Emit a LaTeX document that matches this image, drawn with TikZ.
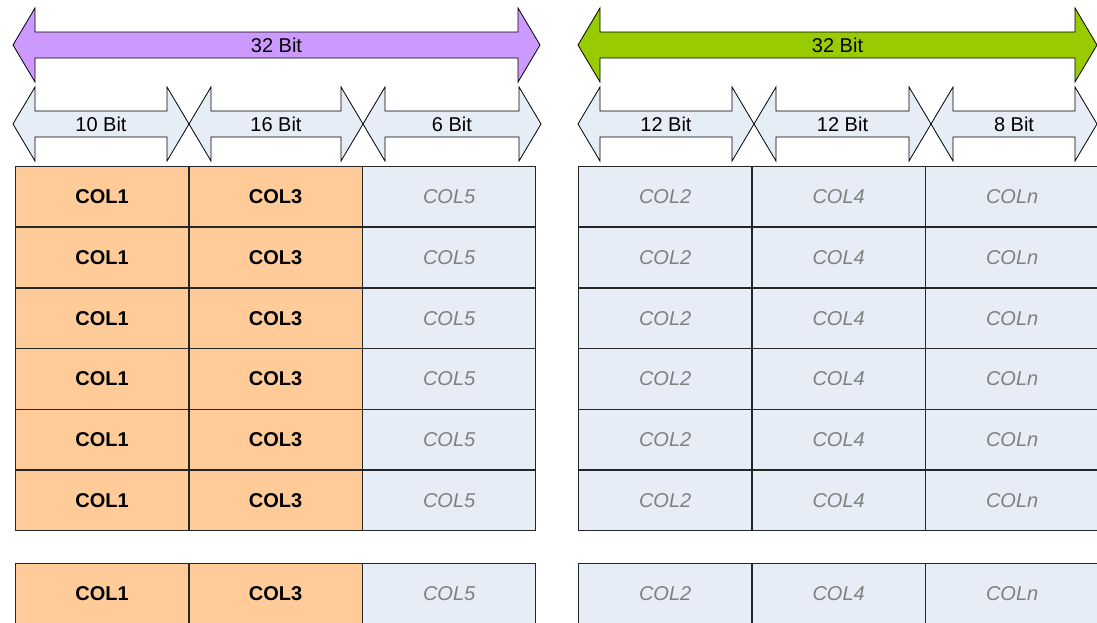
\documentclass[tikz,border=0pt]{standalone}
\usepackage{fontspec}
\setmainfont{Liberation Sans}
\usepackage{xcolor}
\usepackage{tikz}
\usetikzlibrary{matrix, positioning}

\definecolor{peach}{HTML}{FFCC99}
\definecolor{paleblue}{HTML}{E6EDF7}
\definecolor{lilac}{HTML}{CC99FF}
\definecolor{lime}{HTML}{99CC00}
\definecolor{greytext}{HTML}{808080}

% double headed bit arrow: name, left tip, right tip, middle y, fill, label
\newcommand{\bitarrow}[6]{%
\filldraw[arrowline, fill=#5] (#2,#4) -- (#2+22,#4-37) -- (#2+22,#4-13) -- (#3-22,#4-13) -- (#3-22,#4-37) -- (#3,#4)
  -- (#3-22,#4+37) -- (#3-22,#4+13) -- (#2+22,#4+13) -- (#2+22,#4+37) -- cycle;
\node[bitlabel] (#1) at ({(#2+#3)/2},#4) {#6};}

\begin{document}
\begin{tikzpicture}
[x=1pt, y=-1pt,
arrowline/.style={draw=black, line width=0.8pt, line join=miter},
bitlabel/.style={inner sep=0pt, font=\fontsize{20}{24}\selectfont},
cell/.style={rectangle, draw=black!85, line width=0.9pt, inner sep=0pt, anchor=center, minimum width=173pt, minimum height=60.2pt, font=\fontsize{20}{24}\selectfont},
keycell/.style={cell, fill=peach, font=\fontsize{20}{24}\selectfont\bfseries},
restcell/.style={cell, fill=paleblue, text=greytext, font=\fontsize{20}{24}\selectfont\itshape},
space/.style={matrix of nodes, inner sep=0pt, anchor=north west, row sep=-\pgflinewidth, column sep=-\pgflinewidth}]

\useasboundingbox (0,0) rectangle (1097,622);

% arrows over the left word
\bitarrow{lefttotal}{13}{540}{45}{lilac}{32 Bit}
\bitarrow{leftten}{13}{189}{124}{paleblue}{10 Bit}
\bitarrow{leftsixteen}{189}{363}{124}{paleblue}{16 Bit}
\bitarrow{leftsix}{363}{541}{124}{paleblue}{6 Bit}

% arrows over the right word
\bitarrow{righttotal}{578}{1097}{45}{lime}{32 Bit}
\bitarrow{righttwelvea}{578}{754}{124}{paleblue}{12 Bit}
\bitarrow{righttwelveb}{754}{931}{124}{paleblue}{12 Bit}
\bitarrow{righteight}{931}{1097}{124}{paleblue}{8 Bit}

\matrix (lefttab) [space,
column 1/.style={nodes={keycell}},
column 2/.style={nodes={keycell}},
column 3/.style={nodes={restcell}},
] at (15,166) {
COL1 & COL3 & COL5 \\
COL1 & COL3 & COL5 \\
COL1 & COL3 & COL5 \\
COL1 & COL3 & COL5 \\
COL1 & COL3 & COL5 \\
COL1 & COL3 & COL5 \\[33pt]
COL1 & COL3 & COL5 \\
};

\matrix (righttab) [space,
column 1/.style={nodes={restcell}},
column 2/.style={nodes={restcell}},
column 3/.style={nodes={restcell}},
] at (578,166) {
COL2 & COL4 & COLn \\
COL2 & COL4 & COLn \\
COL2 & COL4 & COLn \\
COL2 & COL4 & COLn \\
COL2 & COL4 & COLn \\
COL2 & COL4 & COLn \\[33pt]
COL2 & COL4 & COLn \\
};
\end{tikzpicture}
\end{document}
